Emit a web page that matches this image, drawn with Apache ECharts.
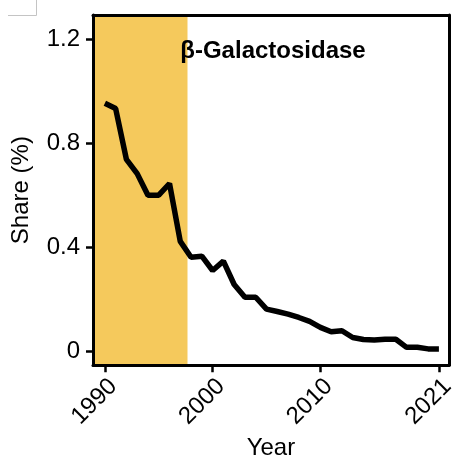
<!DOCTYPE html>
<html>
<head>
<meta charset="utf-8">
<script src="https://cdn.jsdelivr.net/npm/echarts@6/dist/echarts.min.js"></script>
<style>
  html, body { margin: 0; padding: 0; background: #fff; }
  #chart { width: 458px; height: 465px; }
</style>
</head>
<body>
<div id="chart"></div>
<script>
// Yearly share of β-Galactosidase, 1990–2021
const years = [1990, 1991, 1992, 1993, 1994, 1995, 1996, 1997, 1998, 1999,
               2000, 2001, 2002, 2003, 2004, 2005, 2006, 2007, 2008, 2009,
               2010, 2011, 2012, 2013, 2014, 2015, 2016, 2017, 2018, 2019,
               2020, 2021];
const share = [0.955, 0.935, 0.739, 0.684, 0.601, 0.601, 0.646, 0.423, 0.362, 0.366,
               0.311, 0.347, 0.257, 0.208, 0.208, 0.162, 0.153, 0.143, 0.130, 0.115,
               0.092, 0.075, 0.079, 0.053, 0.045, 0.043, 0.046, 0.046, 0.015, 0.015,
               0.009, 0.009];
const xTicks = [1990, 2000, 2010, 2021];
const yTicks = [0, 0.4, 0.8, 1.2];
// highlighted early period
const shadedEnd = 1997.67;

const FONT = '"Liberation Sans", Arial, Helvetica, sans-serif';
const FS = 24;
const X_MIN = 1988.9, X_MAX = 2021.92;
const Y_MIN = -0.054, Y_MAX = 1.295;

const chart = echarts.init(document.getElementById('chart'), null, { renderer: 'canvas' });

// plain axes that only close the frame on the top and right
const frameAxis = {
  type: 'value',
  axisLine: { show: true, onZero: false, lineStyle: { color: '#000', width: 3 } },
  axisTick: { show: false },
  axisLabel: { show: false },
  splitLine: { show: false },
  z: 10
};

chart.setOption({
  animation: false,
  backgroundColor: '#fff',
  grid: { left: 93, right: 5, top: 15, bottom: 97 },
  xAxis: [{
    type: 'value',
    min: X_MIN,
    max: X_MAX,
    z: 10,
    name: 'Year',
    nameLocation: 'middle',
    nameGap: 66,
    nameTextStyle: { fontFamily: FONT, fontSize: FS, color: '#000' },
    axisLine: { show: true, onZero: false, lineStyle: { color: '#000', width: 3 } },
    axisTick: { show: true, length: 7, customValues: xTicks, lineStyle: { color: '#000', width: 2.5 } },
    axisLabel: {
      customValues: xTicks, rotate: 45, margin: 9,
      verticalAlign: 'top',
      fontFamily: FONT, fontSize: FS, color: '#000',
      formatter: v => String(v)
    },
    splitLine: { show: false }
  }, Object.assign({ position: 'top', min: X_MIN, max: X_MAX }, frameAxis)],
  yAxis: [{
    type: 'value',
    min: Y_MIN,
    max: Y_MAX,
    z: 10,
    name: 'Share (%)',
    nameLocation: 'middle',
    nameGap: 60,
    nameTextStyle: { fontFamily: FONT, fontSize: FS, color: '#000' },
    axisLine: { show: true, onZero: false, lineStyle: { color: '#000', width: 3 } },
    axisTick: { show: true, length: 7, customValues: yTicks, lineStyle: { color: '#000', width: 2.5 } },
    axisLabel: {
      customValues: yTicks, margin: 13,
      fontFamily: FONT, fontSize: FS, color: '#000',
      formatter: v => (v === 0 ? '0' : v.toFixed(1))
    },
    splitLine: { show: false }
  }, Object.assign({ position: 'right', min: Y_MIN, max: Y_MAX }, frameAxis)],
  series: [{
    type: 'line',
    data: years.map((y, i) => [y, share[i]]),
    showSymbol: false,
    symbol: 'none',
    lineStyle: { color: '#000', width: 5.5 },
    markArea: {
      silent: true,
      itemStyle: { color: '#F5C95C' },
      data: [[{ xAxis: X_MIN }, { xAxis: shadedEnd }]]
    },
    z: 3
  }],
  graphic: [{
    type: 'text',
    x: 273,
    y: 51,
    style: {
      text: 'β-Galactosidase',
      textAlign: 'center', textVerticalAlign: 'middle',
      font: 'bold ' + FS + 'px ' + FONT, fill: '#000'
    },
    z: 20
  }, {
    type: 'polyline',
    shape: { points: [[8, 15.5], [36.5, 15.5], [36.5, 0]] },
    style: { stroke: '#c4c4c4', lineWidth: 1, fill: null },
    z: 20
  }]
});
</script>
</body>
</html>
